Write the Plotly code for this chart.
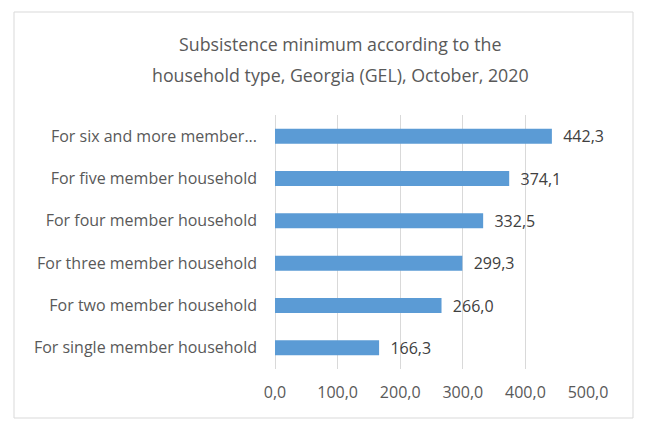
import plotly.graph_objects as go

categories = [
    "For single member household",
    "For two member household",
    "For three member household",
    "For four member household",
    "For five member household",
    "For six and more member...",
]
values = [166.3, 266.0, 299.3, 332.5, 374.1, 442.3]
tick_vals = [0, 100, 200, 300, 400, 500]
tick_text = ["0,0", "100,0", "200,0", "300,0", "400,0", "500,0"]
title_lines = [
    "Subsistence minimum according to the",
    "household type, Georgia (GEL), October, 2020",
]

# page body adds an 8px offset; positions below are compensated
OFF = 8
W, H = 650, 433
L, R, T, B = 275 - OFF, 62 + OFF, 115 - OFF, 64 + OFF
PW, PH = W - L - R, H - T - B


def px_x(x):
    return (x - OFF - L) / PW


def px_y(y):
    return (H - B - (y - OFF)) / PH


FONT = "Open Sans"

fig = go.Figure()
fig.add_trace(go.Bar(
    x=values,
    y=categories,
    orientation="h",
    marker=dict(color="#5B9BD5", line=dict(width=0)),
    texttemplate="\u00a0\u00a0%{x:.1f}",
    textposition="outside",
    constraintext="none",
    textfont=dict(family=FONT, size=16, color="#404040"),
    cliponaxis=False,
    hoverinfo="skip",
))

annotations = []
for line, yc in zip(title_lines, [44, 75]):
    annotations.append(dict(
        text=line, xref="paper", yref="paper",
        x=px_x(340), y=px_y(yc), xanchor="center", yanchor="middle",
        showarrow=False,
        font=dict(family=FONT, size=17.8, color="#595959"),
    ))

fig.update_layout(
    width=W, height=H,
    margin=dict(l=L, r=R, t=T, b=B, pad=0),
    paper_bgcolor="white",
    plot_bgcolor="white",
    separators=", ",
    bargap=0.645,
    showlegend=False,
    annotations=annotations,
    xaxis=dict(
        range=[0, 500],
        tickvals=tick_vals,
        ticktext=tick_text,
        showgrid=True,
        gridcolor="#D9D9D9",
        gridwidth=1,
        zeroline=True,
        zerolinecolor="#D9D9D9",
        zerolinewidth=1,
        showline=False,
        ticks="",
        tickfont=dict(family=FONT, size=16, color="#595959"),
        ticklabelstandoff=12,
    ),
    yaxis=dict(
        categoryorder="array",
        categoryarray=categories,
        showgrid=False,
        zeroline=False,
        showline=False,
        ticks="",
        ticklabelstandoff=17,
        tickfont=dict(family=FONT, size=16, color="#595959"),
    ),
    shapes=[dict(
        type="rect", xref="paper", yref="paper",
        x0=px_x(14), x1=px_x(633),
        y0=px_y(418), y1=px_y(12),
        line=dict(color="#D9D9D9", width=1), fillcolor="rgba(0,0,0,0)",
        layer="below",
    )],
)

fig.write_html("out.html")
